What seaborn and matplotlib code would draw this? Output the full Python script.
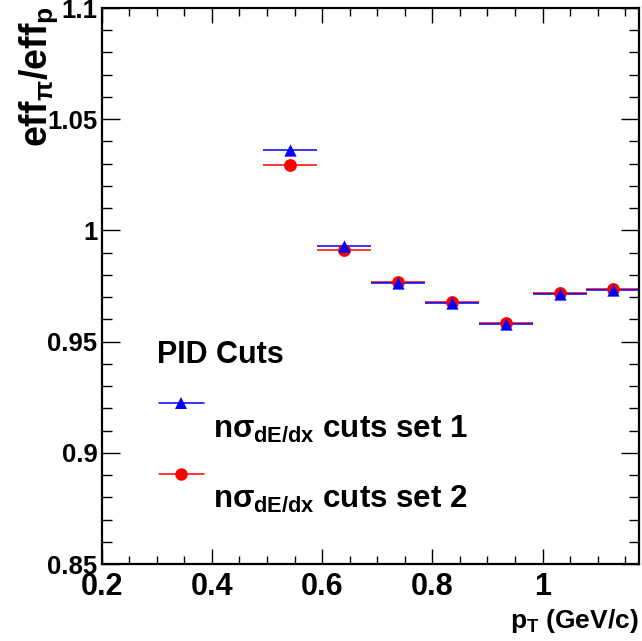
import matplotlib
matplotlib.use("Agg")
import matplotlib.pyplot as plt
import seaborn as sns
import numpy as np
import pandas as pd
from matplotlib.ticker import MultipleLocator, FixedLocator, FixedFormatter

# ---- data ----
pt_centers = [0.542, 0.640, 0.737, 0.836, 0.933, 1.032, 1.128]
pt_halfwidth = [0.049, 0.049, 0.049, 0.049, 0.049, 0.049, 0.049]
set1_ratio = [1.0360, 0.9930, 0.9763, 0.9675, 0.9580, 0.9712, 0.9730]
set2_ratio = [1.0294, 0.9912, 0.9769, 0.9680, 0.9585, 0.9720, 0.9735]
series_labels = [r"n$\sigma_{\mathbf{dE/dx}}$ cuts set 1", r"n$\sigma_{\mathbf{dE/dx}}$ cuts set 2"]
legend_title = "PID Cuts"
x_ticks = [0.2, 0.4, 0.6, 0.8, 1.0]
x_ticklabels = ["0.2", "0.4", "0.6", "0.8", "1"]
y_ticks = [0.85, 0.9, 0.95, 1.0, 1.05, 1.1]
y_ticklabels = ["0.85", "0.9", "0.95", "1", "1.05", "1.1"]

sns.set_theme(style="ticks")
plt.rcParams["font.family"] = ["Liberation Sans", "DejaVu Sans"]
plt.rcParams["font.weight"] = "bold"
plt.rcParams["text.color"] = "black"
plt.rcParams["axes.labelcolor"] = "black"
plt.rcParams["xtick.color"] = "black"
plt.rcParams["ytick.color"] = "black"
plt.rcParams["axes.edgecolor"] = "black"
plt.rcParams["mathtext.fontset"] = "custom"
plt.rcParams["mathtext.rm"] = "Liberation Sans:bold"
plt.rcParams["mathtext.bf"] = "Liberation Sans:bold"
plt.rcParams["mathtext.it"] = "Liberation Sans"
plt.rcParams["mathtext.sf"] = "Liberation Sans:bold"

df = pd.DataFrame({
    "pt": pt_centers * 2,
    "ratio": set1_ratio + set2_ratio,
    "series": ["set 1"] * len(pt_centers) + ["set 2"] * len(pt_centers),
})

W, H = 642, 641
fig = plt.figure(figsize=(W / 100, H / 100), dpi=100)
fig.patch.set_facecolor("white")
ax = fig.add_axes([101.7 / W, (H - 564) / H, (639 - 101.7) / W, (564 - 8) / H])
ax.set_facecolor("white")

# horizontal bin-width bars
ax.errorbar(pt_centers, set2_ratio, xerr=pt_halfwidth, fmt="none", ecolor="red", elinewidth=1.1, zorder=2)
ax.errorbar(pt_centers, set1_ratio, xerr=pt_halfwidth, fmt="none", ecolor="blue", elinewidth=1.1, zorder=2)

d2 = df[df.series == "set 2"]
d1 = df[df.series == "set 1"]
sns.scatterplot(data=d2, x="pt", y="ratio", marker="o", color="red", s=85, linewidth=0, ax=ax, zorder=3, legend=False)
sns.scatterplot(data=d1, x="pt", y="ratio", marker="^", color="blue", s=78, linewidth=0, ax=ax, zorder=4, legend=False)

ax.set_xlim(0.2, 1.175)
ax.set_ylim(0.85, 1.1)
ax.set_xlabel("")
ax.set_ylabel("")

ax.xaxis.set_major_locator(FixedLocator(x_ticks))
ax.xaxis.set_major_formatter(FixedFormatter(x_ticklabels))
ax.xaxis.set_minor_locator(MultipleLocator(0.05))
ax.yaxis.set_major_locator(FixedLocator(y_ticks))
ax.yaxis.set_major_formatter(FixedFormatter(y_ticklabels))
ax.yaxis.set_minor_locator(MultipleLocator(0.01))

ax.tick_params(axis="both", which="both", direction="in", top=True, right=True, color="black", width=1.0)
ax.tick_params(axis="x", which="major", length=11, labelsize=22, pad=6, labelcolor="black")
ax.tick_params(axis="x", which="minor", length=5.5)
ax.tick_params(axis="y", which="major", length=13, labelsize=18.5, pad=3, labelcolor="black")
ax.tick_params(axis="y", which="minor", length=7)
for lab in ax.get_xticklabels() + ax.get_yticklabels():
    lab.set_fontweight("bold")
for sp in ax.spines.values():
    sp.set_linewidth(1.6)
    sp.set_color("black")

# axis titles (ROOT style placement)
fig.text(17 / W, 1 - 6 / H, r"eff$_{\pi}$/eff$_{\mathbf{p}}$", rotation=90, ha="left", va="top",
         fontsize=27, fontweight="bold", color="black")
fig.text(639 / W, (H - 628) / H, r"p$_{\mathbf{T}}$ (GeV/c)", ha="right", va="baseline",
         fontsize=19, fontweight="bold", color="black")

# legend (manual, ROOT-like)
ax.text(0.102, 0.3615, legend_title, transform=ax.transAxes, fontsize=22, fontweight="bold",
        va="baseline", ha="left", color="black")
ax.plot([0.107, 0.190], [0.290, 0.290], color="blue", lw=1.1, transform=ax.transAxes, clip_on=False)
ax.plot([0.148], [0.290], marker="^", ms=9, color="blue", mew=0, transform=ax.transAxes, clip_on=False)
ax.plot([0.107, 0.190], [0.162, 0.162], color="red", lw=1.1, transform=ax.transAxes, clip_on=False)
ax.plot([0.148], [0.162], marker="o", ms=9, color="red", mew=0, transform=ax.transAxes, clip_on=False)
ax.text(0.207, 0.228, series_labels[0], transform=ax.transAxes, fontsize=22.5, fontweight="bold",
        va="baseline", ha="left", color="black")
ax.text(0.207, 0.1025, series_labels[1], transform=ax.transAxes, fontsize=22.5, fontweight="bold",
        va="baseline", ha="left", color="black")

fig.savefig("out.png", dpi=100, facecolor="white")
